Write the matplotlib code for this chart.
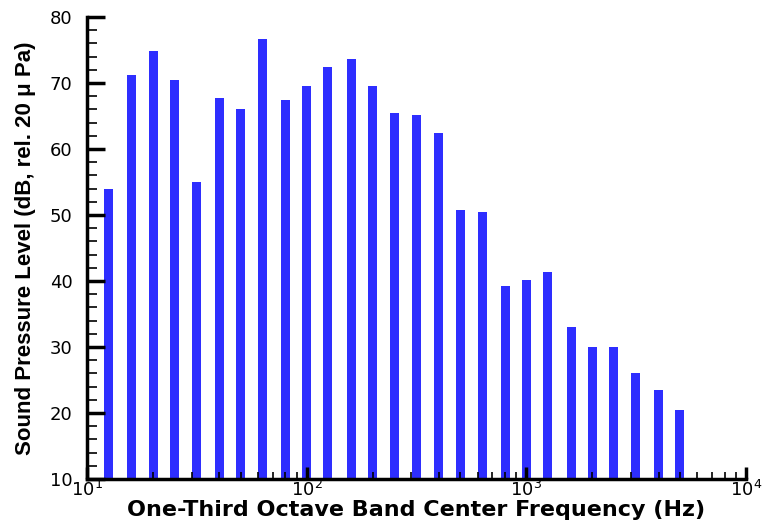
import numpy as np
import matplotlib
matplotlib.use("Agg")
import matplotlib.pyplot as plt
from matplotlib.ticker import LogLocator, MultipleLocator

# One-third octave band centre frequencies (Hz) and measured levels (dB re 20 uPa)
band_centers = [12.5, 16, 20, 25, 31.5, 40, 50, 63, 80, 100, 125, 160, 200, 250,
                315, 400, 500, 630, 800, 1000, 1250, 1600, 2000, 2500, 3150, 4000, 5000]
spl_db = [54.0, 71.2, 74.8, 70.5, 55.0, 67.8, 66.0, 76.7, 67.5, 69.6, 72.4, 73.6, 69.5,
          65.4, 65.1, 62.4, 50.8, 50.5, 39.3, 40.1, 41.4, 33.1, 30.0, 30.0, 26.0, 23.5, 20.4]

plt.rcParams['font.family'] = ['DejaVu Sans']
plt.rcParams['mathtext.fontset'] = 'dejavusans'

fig = plt.figure(figsize=(7.62, 5.24), dpi=100)
ax = fig.add_axes([87 / 762, 1 - 479 / 524, (746 - 87) / 762, (479 - 17) / 524])

# bars of constant width in log-frequency
half = 10 ** 0.0205
f = np.array(band_centers)
left = f / half
widths = f * half - left
ax.bar(left, np.array(spl_db), width=widths, align='edge', color='#2e2eff', bottom=0)

ax.set_xscale('log')
ax.set_xlim(10, 1e4)
ax.set_ylim(10, 80)

ax.yaxis.set_major_locator(MultipleLocator(10))
ax.yaxis.set_minor_locator(MultipleLocator(2))
ax.xaxis.set_major_locator(LogLocator(base=10, numticks=10))
ax.xaxis.set_minor_locator(LogLocator(base=10, subs=np.arange(2, 10), numticks=100))

for s in ('top', 'right'):
    ax.spines[s].set_visible(False)
for s in ('left', 'bottom'):
    ax.spines[s].set_linewidth(2.5)

ax.tick_params(axis='y', which='major', direction='in', length=13, width=2.5, labelsize=13, pad=10.5)
ax.tick_params(axis='y', which='minor', direction='in', length=7, width=1.2)
ax.tick_params(axis='x', which='major', direction='in', length=9, width=2.5, labelsize=13, pad=1)
ax.tick_params(axis='x', which='minor', direction='in', length=5, width=1.2)

ax.set_xlabel('One-Third Octave Band Center Frequency (Hz)', fontsize=16,
              fontweight='bold', labelpad=0)
ax.set_ylabel('Sound Pressure Level (dB, rel. 20 \u03bc Pa)', fontsize=16,
              fontweight='bold', labelpad=10, family=['Liberation Sans', 'DejaVu Sans'])

fig.savefig('out.png', dpi=100)
